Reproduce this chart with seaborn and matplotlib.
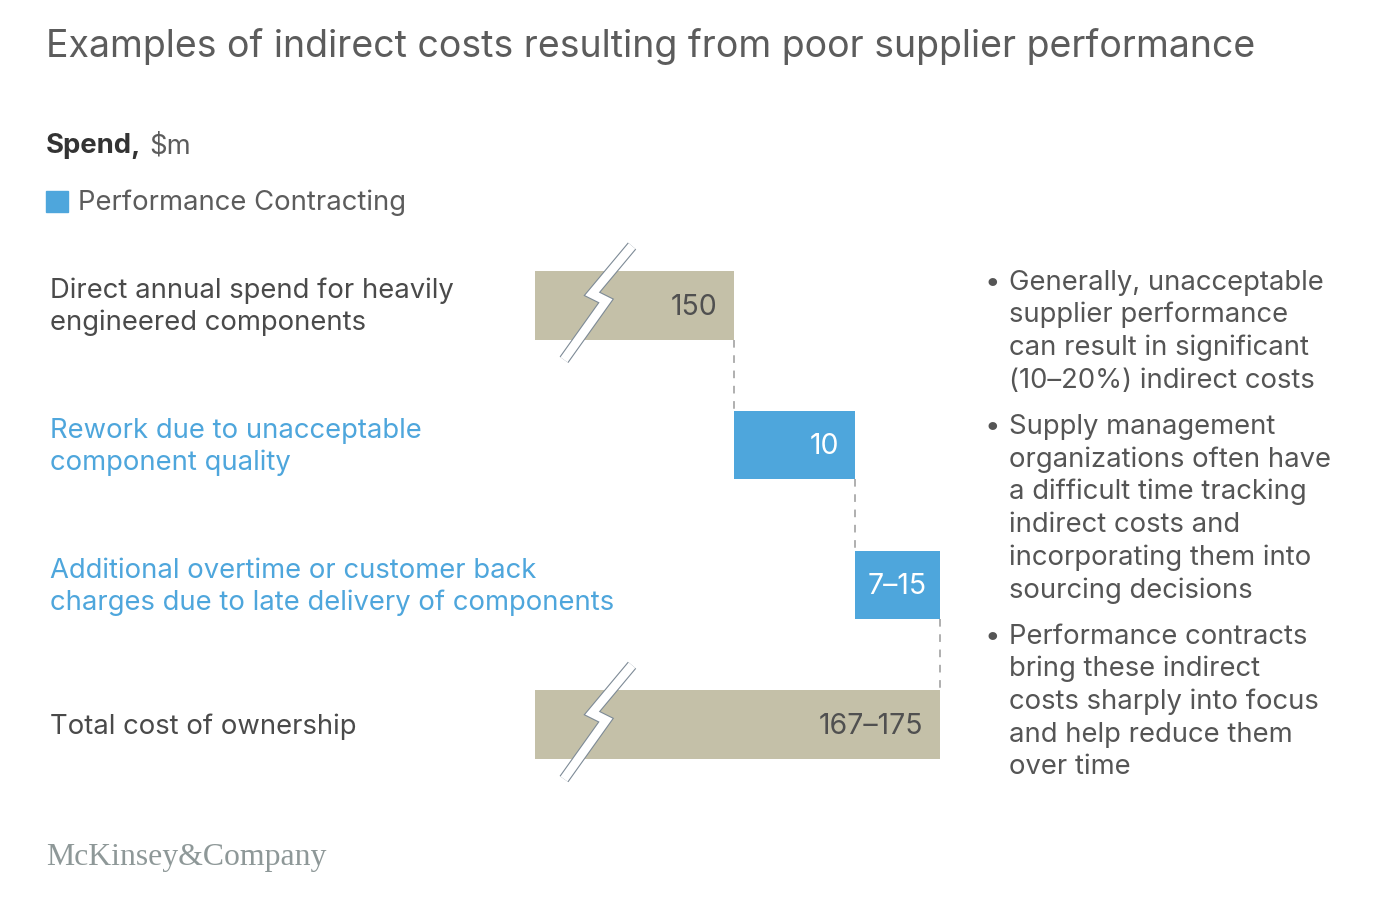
import pandas as pd
import matplotlib.pyplot as plt
import matplotlib.patheffects as pe
from matplotlib.transforms import blended_transform_factory
import seaborn as sns

# data
labels = ["Direct annual spend for heavily\nengineered components",
          "Rework due to unacceptable\ncomponent quality",
          "Additional overtime or customer back\ncharges due to late delivery of components",
          "Total cost of ownership"]
starts = [0, 150, 160, 0]
widths = [150, 10, 7, 167]
value_text = ["150", "10", "7–15", "167–175"]
kind = ["base", "pc", "pc", "base"]

bullets = [
    ["Generally, unacceptable", "supplier performance",
     "can result in significant", "(10–20%) indirect costs"],
    ["Supply management", "organizations often have",
     "a difficult time tracking", "indirect costs and",
     "incorporating them into", "sourcing decisions"],
    ["Performance contracts", "bring these indirect",
     "costs sharply into focus", "and help reduce them", "over time"],
]

BEIGE = "#C4C0A8"
BLUE = "#4EA6DC"
GREY = "#505050"

sns.set_theme(style="white")
plt.rcParams["font.family"] = ["Inter", "DejaVu Sans"]

W, H = 1380, 922
fig = plt.figure(figsize=(W / 100, H / 100), dpi=100)

def fx(px):
    return px / W

def fy(py):
    return 1 - py / H

ax = fig.add_axes([fx(535), fy(794.5), fx(960) - fx(535), (794.5 - 235.5) / H])

df = pd.DataFrame({"label": labels, "start": starts, "width": widths, "kind": kind})
df["end"] = df["start"] + df["width"]

base = df[df["kind"] == "base"]
sns.barplot(data=base, x="end", y="label", order=labels, color=BEIGE,
            width=0.49, linewidth=0, saturation=1, orient="h", ax=ax)
pc = df[df["kind"] == "pc"]
ax.barh(pc.index, pc["width"], left=pc["start"], height=0.49, color=BLUE, linewidth=0)

ax.set_xlim(133.55, 168.67)
ax.set_ylim(3.5, -0.5)
ax.axis("off")

# connectors
for i in range(len(df) - 1):
    x = df["end"][i]
    ax.plot([x, x], [i + 0.245, i + 1 - 0.245], color="#9a9a9a", lw=1.1,
            ls=(0, (5, 5)), zorder=0)

# value labels (nudged a bit down to sit on the visual centre)
for i, row in df.iterrows():
    col = "white" if row["kind"] == "pc" else GREY
    if row["width"] < 8:
        ax.text(row["start"] + row["width"] / 2, i + 0.012, value_text[i], ha="center",
                va="center", color=col, fontsize=20.5)
    else:
        ax.text(row["end"] - 1.35, i + 0.012, value_text[i], ha="right", va="center",
                color=col, fontsize=20.5)

# axis break marks on the long bars
bolt = [(34, -59.5), (-6, -11.5), (8, -4.5), (-34, 54.5)]
for i, row in df.iterrows():
    if row["kind"] != "base":
        continue
    xc = 133.55 + 63 / 12.1
    xs = [xc + dx / 12.1 for dx, dy in bolt]
    ys = [i + dy / 140 for dx, dy in bolt]
    ax.plot(xs, ys, color="white", lw=6.2, solid_joinstyle="miter",
            solid_capstyle="butt", clip_on=False, zorder=5,
            path_effects=[pe.Stroke(linewidth=7.8, foreground="#7d8a96"), pe.Normal()])

# row labels
tr = blended_transform_factory(fig.transFigure, ax.transData)
for i, row in df.iterrows():
    col = BLUE if row["kind"] == "pc" else "#4a4a4a"
    ax.text(fx(50), i + 0.012, labels[i], transform=tr, ha="left", va="center",
            color=col, fontsize=19.75, linespacing=1.27)

# title, unit, legend
fig.text(fx(46), fy(47), "Examples of indirect costs resulting from poor supplier performance",
         fontsize=27, color="#5c5c5c", va="center", ha="left")
fig.text(fx(46), fy(146), "Spend,", fontsize=19.75, fontweight="bold",
         color="#333333", va="center", ha="left")
fig.text(fx(149), fy(146), "$m", fontsize=19.75, color="#5c5c5c", va="center", ha="left")
fig.patches.append(plt.Rectangle((fx(46), fy(212)), fx(22), 21 / H, color=BLUE,
                                 transform=fig.transFigure, figure=fig))
fig.text(fx(78), fy(203), "Performance Contracting", fontsize=19.75, color="#5c5c5c",
         va="center", ha="left")

# right commentary
y = 282.5
for lines in bullets:
    fig.text(fx(985), fy(y), "•", fontsize=20, color="#555555", va="center", ha="left")
    for line in lines:
        fig.text(fx(1009), fy(y), line, fontsize=19.75, color="#555555",
                 va="center", ha="left")
        y += 32.7
    y += 13.5

fig.text(fx(46), fy(857), "McKinsey&Company", fontsize=22.9, color="#8e9898",
         va="center", ha="left", family=["Liberation Serif", "DejaVu Serif"])

fig.savefig("out.png", dpi=100, facecolor="white")
